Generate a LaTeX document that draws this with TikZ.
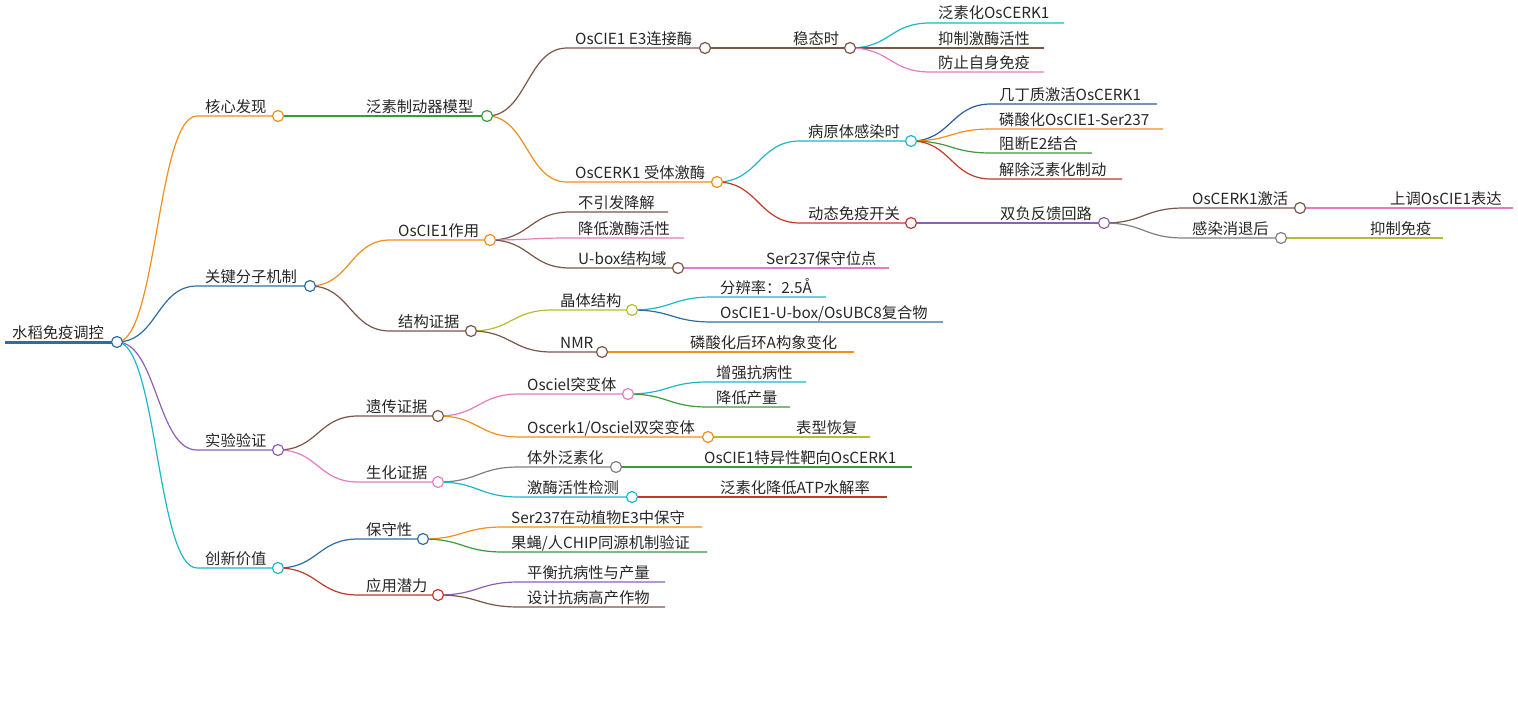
\documentclass[tikz,border=0pt]{standalone}
\usepackage{fontspec}
\setmainfont{Noto Sans CJK SC}
\usetikzlibrary{calc}
\pgfdeclarelayer{bg}\pgfsetlayers{bg,main}
\definecolor{cor}{HTML}{F28E1C}
\definecolor{cbl}{HTML}{2E6DA4}
\definecolor{cpu}{HTML}{8E5FB5}
\definecolor{ccy}{HTML}{1FB6C8}
\definecolor{cgr}{HTML}{3A9A3A}
\definecolor{cbr}{HTML}{7B5548}
\definecolor{cpk}{HTML}{E47CC2}
\definecolor{crd}{HTML}{C0392B}
\definecolor{cnv}{HTML}{2A5D9A}
\definecolor{col}{HTML}{B5BD2F}
\definecolor{cgy}{HTML}{7F7F7F}
\tikzset{lbl/.style={anchor=base west,inner sep=0,font=\fontsize{15.3}{18}\selectfont,text=black!85},
 dot/.style={circle,draw=#1,fill=white,line width=1.2pt,minimum size=11pt,inner sep=0},
 edge/.style={draw=#1,line width=1.2pt}}
\newcommand\leaf[7]{% name parent x uy endx color text
 \coordinate (#1s) at (#3-8,#4); \coordinate (#1e) at (#5,#4);
 \node[lbl] (#1) at (#3,#4-4) {#7};
 \begin{pgfonlayer}{bg}
 \draw[edge=#6] let \p1=(#2), \p2=(#1s) in (\p1) .. controls (\x1/2+\x2/2,\y1) and (\x1/2+\x2/2,\y2) .. (\p2) -- (#1e);
 \end{pgfonlayer}}
\newcommand\inner[7]{\leaf{#1}{#2}{#3}{#4}{#5}{#6}{#7}\node[dot=#6] (#1c) at (#1e) {};}
\begin{document}
\begin{tikzpicture}[x=1pt,y=-1pt]
\useasboundingbox (0,0) rectangle (1518,704);
\coordinate (roots) at (5,342);
\node[lbl] (root) at (12,338) {水稻免疫调控};
\begin{pgfonlayer}{bg}\draw[cbl,line width=3pt] (roots) -- (117,342);\end{pgfonlayer}
\node[dot=cbl] (rootc) at (117,342) {};
% core
\inner{a}{rootc}{205}{116}{278}{cor}{核心发现}
\inner{aa}{ac}{366}{116}{487}{cgr}{泛素制动器模型}
\inner{aaa}{aac}{575}{48}{705}{cbr}{OsCIE1 E3连接酶}
\inner{aaaa}{aaac}{793}{48}{850}{cbr}{稳态时}
\leaf{l1}{aaaac}{938}{23}{1064}{ccy}{泛素化OsCERK1}
\leaf{l2}{aaaac}{938}{48}{1044}{cbr}{抑制激酶活性}
\leaf{l3}{aaaac}{938}{72}{1044}{cpk}{防止自身免疫}
\inner{aab}{aac}{575}{182}{717}{cor}{OsCERK1 受体激酶}
\inner{aaba}{aabc}{808}{141}{911}{ccy}{病原体感染时}
\leaf{l4}{aabac}{999}{104}{1157}{cnv}{几丁质激活OsCERK1}
\leaf{l5}{aabac}{999}{129}{1163}{cor}{磷酸化OsCIE1-Ser237}
\leaf{l6}{aabac}{999}{153}{1092}{cgr}{阻断E2结合}
\leaf{l7}{aabac}{999}{179}{1122}{crd}{解除泛素化制动}
\inner{aabb}{aabc}{808}{223}{911}{crd}{动态免疫开关}
\inner{aabba}{aabbc}{1000}{223}{1104}{cpu}{双负反馈回路}
\inner{x1}{aabbac}{1192}{208}{1300}{cbr}{OsCERK1激活}
\inner{x2}{aabbac}{1192}{238}{1281}{cgy}{感染消退后}
\leaf{l8}{x1c}{1390}{208}{1513}{cpk}{上调OsCIE1表达}
\leaf{l9}{x2c}{1370}{238}{1443}{col}{抑制免疫}
% mechanism
\inner{b}{rootc}{205}{286}{310}{cbl}{关键分子机制}
\inner{ba}{bc}{398}{240}{490}{cor}{OsCIE1作用}
\leaf{l10}{bac}{578}{212}{668}{cbr}{不引发降解}
\leaf{l11}{bac}{578}{238}{684}{cpk}{降低激酶活性}
\inner{bab}{bac}{578}{268}{678}{cbr}{U-box结构域}
\leaf{l12}{babc}{766}{268}{889}{cpk}{Ser237保守位点}
\inner{bb}{bc}{398}{331}{471}{cbr}{结构证据}
\inner{bba}{bbc}{560}{310}{632}{col}{晶体结构}
\leaf{l13}{bbac}{720}{297}{826}{ccy}{分辨率：2.5Å}
\leaf{l14}{bbac}{720}{322}{943}{cbl}{OsCIE1-U-box/OsUBC8复合物}
\inner{bbb}{bbc}{560}{352}{602}{cbr}{NMR}
\leaf{l15}{bbbc}{690}{352}{854}{cor}{磷酸化后环A构象变化}
% experiments
\inner{c}{rootc}{205}{450}{278}{cpu}{实验验证}
\inner{ca}{cc}{366}{416}{438}{cbr}{遗传证据}
\inner{caa}{cac}{527}{394}{628}{cpk}{Osciel突变体}
\leaf{l16}{caac}{716}{382}{806}{ccy}{增强抗病性}
\leaf{l17}{caac}{716}{407}{790}{cgr}{降低产量}
\inner{cab}{cac}{527}{437}{708}{cor}{Oscerk1/Osciel双突变体}
\leaf{l18}{cabc}{796}{437}{870}{col}{表型恢复}
\inner{cb}{cc}{366}{482}{438}{cpk}{生化证据}
\inner{cba}{cbc}{527}{467}{616}{cgy}{体外泛素化}
\leaf{l19}{cbac}{704}{467}{912}{cgr}{OsCIE1特异性靶向OsCERK1}
\inner{cbb}{cbc}{527}{497}{632}{ccy}{激酶活性检测}
\leaf{l20}{cbbc}{720}{497}{887}{crd}{泛素化降低ATP水解率}
% value
\inner{d}{rootc}{205}{568}{278}{ccy}{创新价值}
\inner{da}{dc}{366}{539}{423}{cbl}{保守性}
\leaf{l21}{dac}{511}{527}{702}{cor}{Ser237在动植物E3中保守}
\leaf{l22}{dac}{511}{552}{707}{cgr}{果蝇/人CHIP同源机制验证}
\inner{db}{dc}{366}{595}{438}{crd}{应用潜力}
\leaf{l23}{dbc}{527}{582}{665}{cpu}{平衡抗病性与产量}
\leaf{l24}{dbc}{527}{607}{665}{cbr}{设计抗病高产作物}
\end{tikzpicture}
\end{document}
